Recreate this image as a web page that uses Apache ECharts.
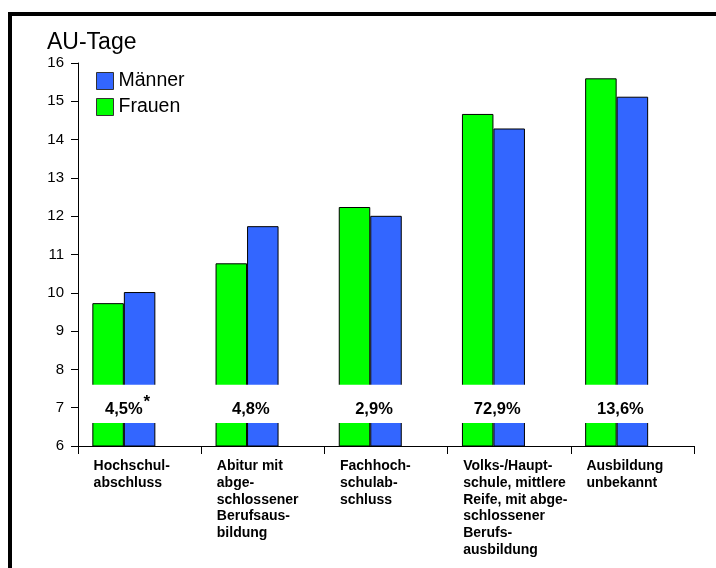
<!DOCTYPE html>
<html>
<head>
<meta charset="utf-8">
<script src="https://cdn.jsdelivr.net/npm/echarts@6/dist/echarts.min.js"></script>
<style>
  html, body { margin: 0; padding: 0; background: #fff; }
  #chart { width: 716px; height: 568px; }
</style>
</head>
<body>
<div id="chart"></div>
<script>
// Arbeitsunfähigkeitstage nach Ausbildungsabschluss
const categories = [
  'Hochschul-\nabschluss',
  'Abitur mit\nabge-\nschlossener\nBerufsaus-\nbildung',
  'Fachhoch-\nschulab-\nschluss',
  'Volks-/Haupt-\nschule, mittlere\nReife, mit abge-\nschlossener\nBerufs-\nausbildung',
  'Ausbildung\nunbekannt'
];
const frauen = [9.73, 10.77, 12.24, 14.67, 15.6];
const maenner = [10.02, 11.74, 12.01, 14.29, 15.12];
// Anteil der Gruppe an allen Versicherten
const shares = ['4,5%', '4,8%', '2,9%', '72,9%', '13,6%'];
const shareNotes = ['*', '', '', '', ''];
const yTicks = { min: 6, max: 16, interval: 1 };

const GREEN = '#00ff00';
const BLUE = '#3366ff';
const FONT = '"Liberation Sans", Arial, sans-serif';

// white band across the bars that carries the share labels
const bandFrom = 6.6, bandTo = 7.6, shareRow = 7.0;

const chart = echarts.init(document.getElementById('chart'), null, { renderer: 'canvas' });

const barStyle = (color) => ({
  color: color,
  borderColor: '#000',
  borderWidth: 1
});

chart.setOption({
  animation: false,
  backgroundColor: '#fff',
  textStyle: { fontFamily: FONT, color: '#000' },
  title: {
    text: 'AU-Tage',
    left: 47,
    top: 31,
    padding: 0,
    textStyle: { fontFamily: FONT, fontSize: 23, fontWeight: 'normal', color: '#000' }
  },
  legend: {
    data: ['Männer', 'Frauen'],
    orient: 'vertical',
    left: 96,
    top: 71,
    padding: 0,
    itemWidth: 17,
    itemHeight: 17,
    itemGap: 6,
    icon: 'rect',
    selectedMode: false,
    itemStyle: { borderColor: '#333', borderWidth: 1 },
    textStyle: { fontFamily: FONT, fontSize: 19.5, color: '#000' }
  },
  grid: { left: 78, right: 22, top: 63, bottom: 122 },
  xAxis: {
    type: 'category',
    data: categories,
    z: 10,
    axisLine: { lineStyle: { color: '#000', width: 1 } },
    axisTick: { show: true, length: 8, lineStyle: { color: '#000' } },
    axisLabel: {
      interval: 0,
      align: 'left',
      verticalAlign: 'top',
      margin: 12,
      padding: [0, 0, 0, -46],
      fontFamily: FONT,
      fontSize: 14,
      fontWeight: 'bold',
      lineHeight: 16.7,
      color: '#000'
    }
  },
  yAxis: {
    type: 'value',
    min: yTicks.min,
    max: yTicks.max,
    interval: yTicks.interval,
    z: 10,
    axisLine: { show: true, lineStyle: { color: '#000', width: 1 } },
    axisTick: { show: true, length: 7, lineStyle: { color: '#000' } },
    splitLine: { show: false },
    axisLabel: { margin: 14, fontFamily: FONT, fontSize: 15, color: '#000' }
  },
  series: [
    {
      name: 'Frauen',
      type: 'bar',
      data: frauen,
      barWidth: 31.5,
      barGap: '0%',
      itemStyle: barStyle(GREEN),
      markArea: {
        silent: true,
        z: 5,
        itemStyle: { color: '#fff', opacity: 1, borderWidth: 0 },
        label: { show: false },
        data: [[{ yAxis: bandFrom }, { yAxis: bandTo }]]
      }
    },
    {
      name: 'Männer',
      type: 'bar',
      data: maenner,
      barWidth: 31.5,
      barGap: '0%',
      itemStyle: barStyle(BLUE)
    },
    {
      // empty slot that keeps the bar pair left of the category centre
      name: 'spacer',
      type: 'bar',
      data: categories.map(() => null),
      barWidth: 31.5,
      barGap: '0%',
      silent: true
    },
    {
      name: 'Anteil',
      type: 'scatter',
      z: 10,
      silent: true,
      symbolSize: 0,
      itemStyle: { opacity: 1 },
      data: categories.map((c, i) => [i, shareRow]),
      label: {
        show: true,
        position: 'inside',
        offset: [-12, -2],
        color: '#000',
        opacity: 1,
        textBorderWidth: 0,
        formatter: (p) => '{v|' + shares[p.dataIndex] + '}' +
          (shareNotes[p.dataIndex] ? '{s|' + shareNotes[p.dataIndex] + '}' : ''),
        rich: {
          v: { fontFamily: FONT, fontSize: 16.5, fontWeight: 'bold', color: '#000',
               textBorderWidth: 0, lineHeight: 24, verticalAlign: 'bottom' },
          s: { fontFamily: FONT, fontSize: 17, fontWeight: 'bold', color: '#000',
               textBorderWidth: 0, lineHeight: 16, verticalAlign: 'bottom', padding: [0, 0, 7, 1] }
        }
      }
    }
  ],
  graphic: [
    {
      type: 'rect',
      silent: true,
      z: 100,
      shape: { x: 10, y: 14, width: 1000, height: 1000 },
      style: { fill: null, stroke: '#000', lineWidth: 4 }
    }
  ]
});
</script>
</body>
</html>
